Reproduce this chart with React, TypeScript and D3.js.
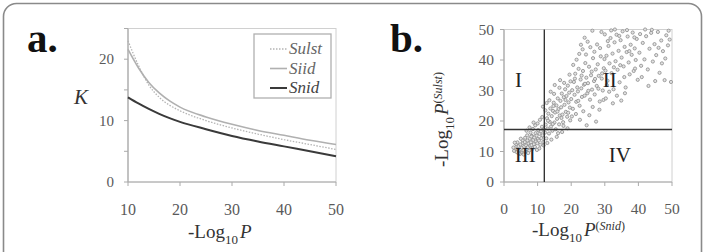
import React from "react";
import * as d3 from "d3";

// Panel a: K versus -log10 P
const kThresholds = [10, 12, 14, 16, 18, 20, 25, 30, 35, 40, 45, 50];
const kSulst = [23.0, 19.0, 15.8, 13.8, 12.5, 11.6, 10.0, 8.8, 7.8, 6.9, 6.1, 5.3];
const kSiid = [21.6, 18.6, 16.2, 14.5, 13.2, 12.2, 10.6, 9.4, 8.4, 7.6, 6.8, 6.1];
const kSnid = [13.8, 12.8, 11.9, 11.1, 10.4, 9.8, 8.6, 7.5, 6.6, 5.8, 5.0, 4.2];
const seriesNames = ["Sulst", "Siid", "Snid"];
const aXTicks = [10, 20, 30, 40, 50];
const aYTicks = [0, 10, 20];
const aYMinor = [0, 5, 10, 15, 20, 25];

// Panel b: -log10 P(Snid) vs -log10 P(Sulst)
const bTicks = [0, 10, 20, 30, 40, 50];
const cutSnid = 12;
const cutSulst = 17.2;
const quadrantNames = ["I", "II", "III", "IV"];
const scatterPoints: [number, number][] = [
  [3.0,10.2],[3.4,11.0],[3.8,9.8],[4.1,10.6],[4.3,11.8],[4.6,10.1],[4.9,12.3],[5.1,9.6],[5.3,11.2],[5.6,12.8],
  [5.8,10.4],[6.0,11.6],[6.2,13.1],[6.4,9.9],[6.6,12.0],[6.8,10.8],[7.0,13.6],[7.1,11.4],[7.3,12.6],[7.5,10.3],
  [7.7,14.2],[7.8,11.9],[8.0,13.0],[8.2,12.1],[8.3,15.1],[8.5,10.9],[8.7,13.8],[8.9,12.4],[9.0,14.6],[9.2,11.5],
  [9.4,16.0],[9.5,13.3],[9.7,15.2],[9.9,12.7],[10.1,14.1],[10.2,17.0],[10.4,13.6],[10.6,15.8],[10.8,12.2],[11.0,16.6],
  [11.1,14.4],[11.3,18.1],[11.5,15.3],[11.7,13.1],[11.9,17.3],[3.6,12.4],[4.0,13.0],[4.8,9.2],[5.5,13.7],[6.3,14.5],
  [7.2,9.5],[7.9,16.2],[8.6,17.4],[9.3,18.6],[10.0,19.2],[10.5,11.0],[2.8,11.3],[5.0,14.2],[6.9,15.3],[8.1,14.9],
  [9.8,10.5],[3.2,12.9],[4.4,9.4],[5.9,9.0],[6.7,16.8],[7.6,17.9],[8.8,19.5],[10.7,20.4],[11.4,21.3],[11.8,12.0],
  [12.2,16.2],[12.4,18.8],[12.6,14.3],[12.8,20.9],[13.0,17.5],[13.2,22.4],[13.4,15.9],[13.6,19.7],[13.8,24.1],[14.0,18.2],
  [14.2,21.6],[14.4,16.8],[14.6,23.3],[14.8,26.0],[15.0,19.5],[15.2,22.8],[15.4,17.3],[15.6,25.1],[15.8,20.7],[16.0,27.4],
  [16.2,23.9],[16.4,18.9],[16.6,21.8],[16.8,26.6],[17.0,24.5],[17.2,29.0],[17.4,22.1],[17.6,19.6],[17.8,27.8],[18.0,25.3],
  [18.2,30.4],[18.4,23.0],[18.6,28.2],[18.8,21.4],[19.0,31.6],[19.2,26.1],[19.4,29.3],[19.6,24.4],[19.8,33.0],[12.9,12.8],
  [13.5,26.8],[14.1,13.9],[14.9,28.9],[15.7,14.8],[16.5,30.9],[17.3,16.4],[17.9,32.5],[18.9,17.6],[19.5,35.2],[12.3,23.5],
  [13.9,29.6],[15.1,31.8],[16.7,33.4],[11.6,24.7],[13.1,20.1],[14.5,19.0],[15.9,23.1],[17.1,21.0],[18.3,26.9],[19.1,22.7],
  [16.1,16.0],[17.7,18.4],[19.7,20.2],[14.7,24.9],[12.7,25.9],
  [20.0,27.2],[20.3,30.1],[20.5,24.0],[20.8,32.8],[21.0,28.6],[21.2,35.5],[21.5,26.3],[21.8,31.0],[22.0,29.7],[22.2,37.1],
  [22.5,25.0],[22.8,33.6],[23.0,30.7],[23.2,27.9],[23.5,36.4],[23.8,31.9],[24.0,28.3],[24.2,39.0],[24.5,34.2],[24.8,29.1],
  [25.0,32.4],[25.3,37.8],[25.6,27.0],[25.9,35.0],[26.2,30.3],[26.5,40.6],[26.8,33.1],[27.0,28.7],[27.3,36.9],[27.6,31.5],
  [27.9,38.6],[28.2,34.8],[28.5,26.4],[28.8,41.2],[29.1,33.9],[29.4,30.0],[29.7,37.3],[21.4,22.3],[22.6,20.4],[23.6,23.2],
  [24.6,18.6],[25.4,21.9],[26.4,24.6],[27.4,19.8],[28.4,23.7],[29.6,26.9],[20.6,38.4],[21.6,40.1],[22.4,42.0],[23.4,43.5],
  [24.4,41.8],[20.2,21.5],[21.1,33.9],[22.1,26.6],[23.1,34.9],[24.1,32.2],[25.1,29.9],[26.1,36.2],[27.1,33.8],[28.1,30.6],
  [29.2,35.6],[25.7,44.2],[26.9,42.7],[24.9,46.0],[27.7,45.1],[28.6,43.9],[29.9,40.3],
  [30.2,36.5],[30.5,41.4],[30.8,33.2],[31.1,44.6],[31.4,38.9],[31.7,47.2],[32.0,35.7],[32.3,42.1],[32.6,30.4],[32.9,45.8],
  [33.2,39.6],[33.5,48.3],[33.8,36.8],[34.1,43.0],[34.4,32.7],[34.7,46.5],[35.0,40.8],[35.3,49.4],[35.6,37.9],[35.9,44.3],
  [36.2,31.0],[36.5,42.6],[36.8,47.7],[37.1,39.2],[37.4,35.3],[37.7,45.0],[38.0,41.7],[38.3,49.0],[38.6,36.4],[38.9,43.8],
  [39.2,40.0],[39.5,46.9],[39.8,33.5],[30.3,27.4],[31.3,29.6],[32.4,25.8],[33.6,28.3],[34.9,26.7],[36.0,29.1],[31.9,49.7],
  [33.0,50.0],[34.3,47.9],[30.9,46.2],[32.7,37.6],[34.6,38.3],[35.8,34.4],[37.3,42.9],[39.0,37.2],[36.6,49.8],[38.8,47.4],
  [30.6,31.8],
  [40.3,42.4],[40.8,38.1],[41.3,45.6],[41.8,40.2],[42.3,47.8],[42.8,36.9],[43.3,43.7],[43.8,48.9],[44.3,39.5],[44.8,45.2],
  [45.3,41.6],[45.8,49.2],[46.3,35.8],[46.8,46.4],[47.3,42.9],[47.8,33.4],[48.3,48.1],[48.8,44.8],[49.3,46.7],[49.7,32.8],
  [41.0,34.4],[43.0,31.5],[45.0,33.1],[47.0,38.9],[49.0,49.6],[42.0,50.0],[44.0,49.9],[46.0,44.0],[48.0,40.5],[40.5,48.5],
  [26.3,49.6],[29.0,49.2],[30.0,48.4],[24.0,47.3],[22.9,45.0]
];

const SERIF = "'Liberation Serif', 'Times New Roman', Tinos, serif";
const AXIS = "#aaaaaa";
const TICKTXT = "#5a5a5a";
const tf: React.CSSProperties = { fontFamily: SERIF };

export default function App() {
  const ax = d3.scaleLinear().domain([10, 50]).range([128, 336]);
  const ay = d3.scaleLinear().domain([0, 25]).range([182, 28.5]);
  const bx = d3.scaleLinear().domain([0, 50]).range([504, 672]);
  const by = d3.scaleLinear().domain([0, 50]).range([182, 29.5]);

  const line = d3
    .line<number>()
    .x((_, i) => ax(kThresholds[i]))
    .y((d) => ay(d))
    .curve(d3.curveMonotoneX);

  const seriesData = [kSulst, kSiid, kSnid];
  const seriesStyle = [
    { stroke: "#b4b4b4", width: 1.3, dash: "1.5 1.5" },
    { stroke: "#b0b0b0", width: 1.6, dash: undefined },
    { stroke: "#3a3a3a", width: 2.0, dash: undefined },
  ];

  const quadPos = [
    { x: bx(4.3), y: 87 },
    { x: bx(31.5), y: 87 },
    { x: bx(6.3), y: 162 },
    { x: bx(34.5), y: 162 },
  ];

  return (
    <svg
      width={705}
      height={252}
      style={{ position: "absolute", left: 0, top: 0, background: "#fff", fontFamily: SERIF }}
    >
      <rect x={3.5} y={3.5} width={698} height={280} rx={13} fill="#fff" stroke="#8a8a8a" strokeWidth={1.6} />

      {/* ---------- Panel a ---------- */}
      <text x={27} y={52} fontSize={41} fontWeight="bold" fill="#111" style={tf}>a.</text>
      <rect x={ax(10)} y={ay(25)} width={ax(50) - ax(10)} height={ay(0) - ay(25)} fill="none" stroke="#d0d0d0" strokeWidth={1} />
      <line x1={ax(10)} x2={ax(10)} y1={ay(0)} y2={ay(25)} stroke={AXIS} strokeWidth={1.2} />
      <line x1={ax(10)} x2={ax(50)} y1={ay(0)} y2={ay(0)} stroke={AXIS} strokeWidth={1.2} />
      {aYMinor.map((t) => (
        <line key={"ay" + t} x1={ax(10) - 4} x2={ax(10)} y1={ay(t)} y2={ay(t)} stroke={AXIS} strokeWidth={1} />
      ))}
      {aYTicks.map((t) => (
        <text key={"ayl" + t} x={114} y={ay(t) + 5} textAnchor="end" fontSize={15} fill={TICKTXT} style={tf}>{t}</text>
      ))}
      {aXTicks.map((t) => (
        <g key={"ax" + t}>
          <line x1={ax(t)} x2={ax(t)} y1={ay(0)} y2={ay(0) + 4} stroke={AXIS} strokeWidth={1} />
          <text x={ax(t)} y={215} textAnchor="middle" fontSize={16} fill={TICKTXT} style={tf}>{t}</text>
        </g>
      ))}
      {seriesData.map((s, i) => (
        <path
          key={"s" + i}
          d={line(s) || ""}
          fill="none"
          stroke={seriesStyle[i].stroke}
          strokeWidth={seriesStyle[i].width}
          strokeDasharray={seriesStyle[i].dash}
        />
      ))}
      <rect x={254} y={34} width={77} height={64} fill="#fff" stroke="#b0b0b0" strokeWidth={1.3} />
      {seriesNames.map((n, i) => (
        <g key={"lg" + n}>
          <line
            x1={270}
            x2={287}
            y1={49 + i * 19.5}
            y2={49 + i * 19.5}
            stroke={seriesStyle[i].stroke}
            strokeWidth={seriesStyle[i].width}
            strokeDasharray={seriesStyle[i].dash}
          />
          <text x={289} y={54 + i * 19.5} fontSize={17} fontStyle="italic" fill={i === 2 ? "#444" : "#666"} style={tf}>{n}</text>
        </g>
      ))}
      <text x={74} y={104} fontSize={21} fontStyle="italic" fill="#333" style={tf}>K</text>
      <text x={188} y={238} fontSize={19} fill="#333" style={tf}>
        -Log
        <tspan fontSize={13} dy={6}>10</tspan>
        <tspan dy={-6} dx={2} fontStyle="italic">P</tspan>
      </text>

      {/* ---------- Panel b ---------- */}
      <text x={390} y={52} fontSize={41} fontWeight="bold" fill="#111" style={tf}>b.</text>
      <rect x={bx(0)} y={by(50)} width={bx(50) - bx(0)} height={by(0) - by(50)} fill="none" stroke="#d0d0d0" strokeWidth={1} />
      <line x1={bx(0)} x2={bx(0)} y1={by(0)} y2={by(50)} stroke={AXIS} strokeWidth={1.2} />
      <line x1={bx(0)} x2={bx(50)} y1={by(0)} y2={by(0)} stroke={AXIS} strokeWidth={1.2} />
      {bTicks.map((t) => (
        <g key={"b" + t}>
          <line x1={bx(0) - 4} x2={bx(0)} y1={by(t)} y2={by(t)} stroke={AXIS} strokeWidth={1} />
          <text x={494} y={by(t) + 5} textAnchor="end" fontSize={15.5} fill={TICKTXT} style={tf}>{t}</text>
          <line x1={bx(t)} x2={bx(t)} y1={by(0)} y2={by(0) + 4} stroke={AXIS} strokeWidth={1} />
          <text x={bx(t)} y={214} textAnchor="middle" fontSize={15.5} fill={TICKTXT} style={tf}>{t}</text>
        </g>
      ))}
      {scatterPoints.map((p, i) => (
        <circle key={"p" + i} cx={bx(p[0])} cy={by(p[1])} r={1.6} fill="#e2e2e2" stroke="#8c8c8c" strokeWidth={0.8} />
      ))}
      <line x1={bx(cutSnid)} x2={bx(cutSnid)} y1={by(0)} y2={by(50)} stroke="#333" strokeWidth={1.4} />
      <line x1={bx(0)} x2={bx(50)} y1={by(cutSulst)} y2={by(cutSulst)} stroke="#333" strokeWidth={1.4} />
      {quadrantNames.map((q, i) => (
        <text key={"q" + q} x={quadPos[i].x} y={quadPos[i].y} textAnchor="middle" fontSize={21} fill="#222" style={tf}>{q}</text>
      ))}
      <text x={532} y={236} fontSize={19} fill="#333" style={tf}>
        -Log
        <tspan fontSize={13} dy={6}>10</tspan>
        <tspan dy={-6} dx={2} fontStyle="italic">P</tspan>
        <tspan dy={-6} fontSize={12}>(</tspan>
        <tspan fontSize={12} fontStyle="italic">Snid</tspan>
        <tspan fontSize={12}>)</tspan>
      </text>
      <text transform="translate(448,167) rotate(-90)" fontSize={19} fill="#333" style={tf}>
        -Log
        <tspan fontSize={13} dy={6}>10</tspan>
        <tspan dy={-6} dx={2} fontStyle="italic">P</tspan>
        <tspan dy={-6} fontSize={12}>(</tspan>
        <tspan fontSize={12} fontStyle="italic">Sulst</tspan>
        <tspan fontSize={12}>)</tspan>
      </text>
    </svg>
  );
}
